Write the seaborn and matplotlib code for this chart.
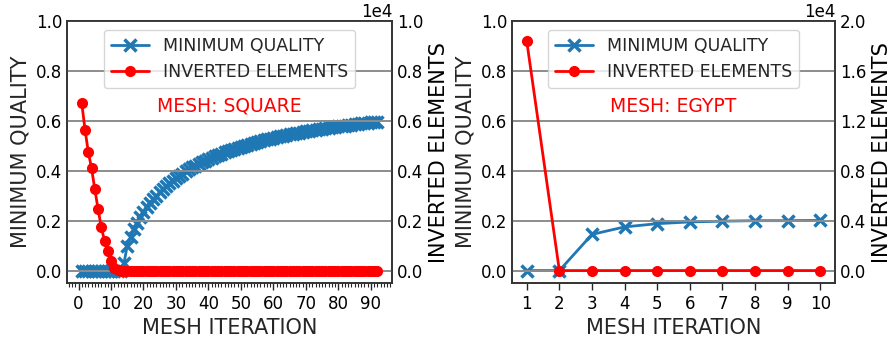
import numpy as np
import pandas as pd
import matplotlib
matplotlib.use("Agg")
import matplotlib.pyplot as plt
import seaborn as sns
from matplotlib.ticker import MultipleLocator

# Mesh SQUARE : 92 iterations
square_iter = list(range(1, 93))
square_quality = [0.0] * 13 + [
    0.030, 0.100, 0.135, 0.165, 0.192, 0.215, 0.235, 0.253, 0.270, 0.286,
    0.300, 0.314, 0.327, 0.339, 0.350, 0.361, 0.371, 0.380, 0.389, 0.398,
    0.406, 0.414, 0.421, 0.428, 0.435, 0.441, 0.447, 0.453, 0.459, 0.464,
    0.469, 0.474, 0.479, 0.484, 0.488, 0.492, 0.497, 0.501, 0.505, 0.508,
    0.512, 0.516, 0.519, 0.522, 0.526, 0.529, 0.532, 0.535, 0.538, 0.540,
    0.543, 0.546, 0.548, 0.551, 0.553, 0.555, 0.558, 0.560, 0.562, 0.564,
    0.566, 0.568, 0.570, 0.572, 0.574, 0.576, 0.578, 0.580, 0.581, 0.583,
    0.585, 0.586, 0.588, 0.590, 0.591, 0.593, 0.594, 0.596, 0.597,
]
square_inverted = [6700, 5640, 4750, 4100, 3270, 2470, 1730, 1200, 770, 370,
                   110, 10] + [0] * 80

# Mesh EGYPT : 10 iterations
egypt_iter = list(range(1, 11))
egypt_quality = [0.0, 0.0, 0.145, 0.175, 0.188, 0.195, 0.198, 0.200, 0.200, 0.201]
egypt_inverted = [18400, 0, 0, 0, 0, 0, 0, 0, 0, 0]

sns.set_style("white")
plt.rcParams["font.family"] = ["DejaVu Sans"]

blue = "#1f77b4"
red = "#ff0000"

fig = plt.figure(figsize=(8.89, 3.41), dpi=100)
ax_left = fig.add_axes([0.0754, 0.170, 0.3656, 0.768])
ax_right = fig.add_axes([0.576, 0.170, 0.3633, 0.768])


def draw_panel(ax, iters, quality, inverted, inv_max, inv_step, mesh_name, minor):
    df = pd.DataFrame({"iter": iters, "quality": quality, "inverted": inverted})
    ax2 = ax.twinx()

    sns.lineplot(data=df, x="iter", y="quality", ax=ax, color=blue, marker="x",
                 markersize=8, markeredgewidth=2.5, markeredgecolor=blue,
                 linewidth=2, label="MINIMUM QUALITY", legend=False)
    sns.lineplot(data=df, x="iter", y="inverted", ax=ax2, color=red, marker="o",
                 markersize=8, markeredgewidth=0, linewidth=2,
                 label="INVERTED ELEMENTS", legend=False)

    ax.set_ylim(-0.05, 1.0)
    ax.set_yticks(np.arange(0, 1.01, 0.2))
    ax2.set_ylim(-0.05 * inv_max, inv_max)
    ax2.set_yticks(np.arange(0, inv_max + 1, inv_step))
    ax2.ticklabel_format(axis="y", style="sci", scilimits=(0, 0))
    ax2.yaxis.get_offset_text().set_fontsize(12)

    ax.grid(False)
    ax2.grid(True, axis="y", color="#8c8c8c", linewidth=1.4)
    ax2.grid(False, axis="x")

    ax.set_xlabel("MESH ITERATION", fontsize=15, color="#262626")
    ax.set_ylabel("MINIMUM QUALITY", fontsize=15, color="#262626")
    ax2.set_ylabel("INVERTED ELEMENTS", fontsize=15, color="black")

    ax.tick_params(axis="y", length=0, labelsize=12, labelcolor="black")
    ax2.tick_params(axis="y", length=0, labelsize=12, labelcolor="black")
    ax.tick_params(axis="x", which="major", direction="out", length=5, width=1,
                   labelsize=12, labelcolor="black", bottom=True)
    if minor:
        ax.xaxis.set_major_locator(MultipleLocator(10))
        ax.xaxis.set_minor_locator(MultipleLocator(1))
        ax.tick_params(axis="x", which="minor", direction="out", length=3,
                       width=0.8, bottom=True)
    else:
        ax.set_xticks(iters)

    for a in (ax, ax2):
        for sp in a.spines.values():
            sp.set_color("#333333")
            sp.set_linewidth(1.2)

    h1, l1 = ax.get_legend_handles_labels()
    h2, l2 = ax2.get_legend_handles_labels()
    ax2.legend(h1 + h2, l1 + l2, loc="upper center", fontsize=12.5,
               frameon=True, framealpha=0.8, edgecolor="#cccccc",
               handlelength=2.2, borderpad=0.4, labelspacing=0.5)

    ax.text(0.5, 0.675, "MESH: " + mesh_name, transform=ax.transAxes,
            ha="center", va="center", color=red, fontsize=13.5)


draw_panel(ax_left, square_iter, square_quality, square_inverted,
           10000, 2000, "SQUARE", True)
draw_panel(ax_right, egypt_iter, egypt_quality, egypt_inverted,
           20000, 4000, "EGYPT", False)

fig.savefig("out.png", dpi=100)
